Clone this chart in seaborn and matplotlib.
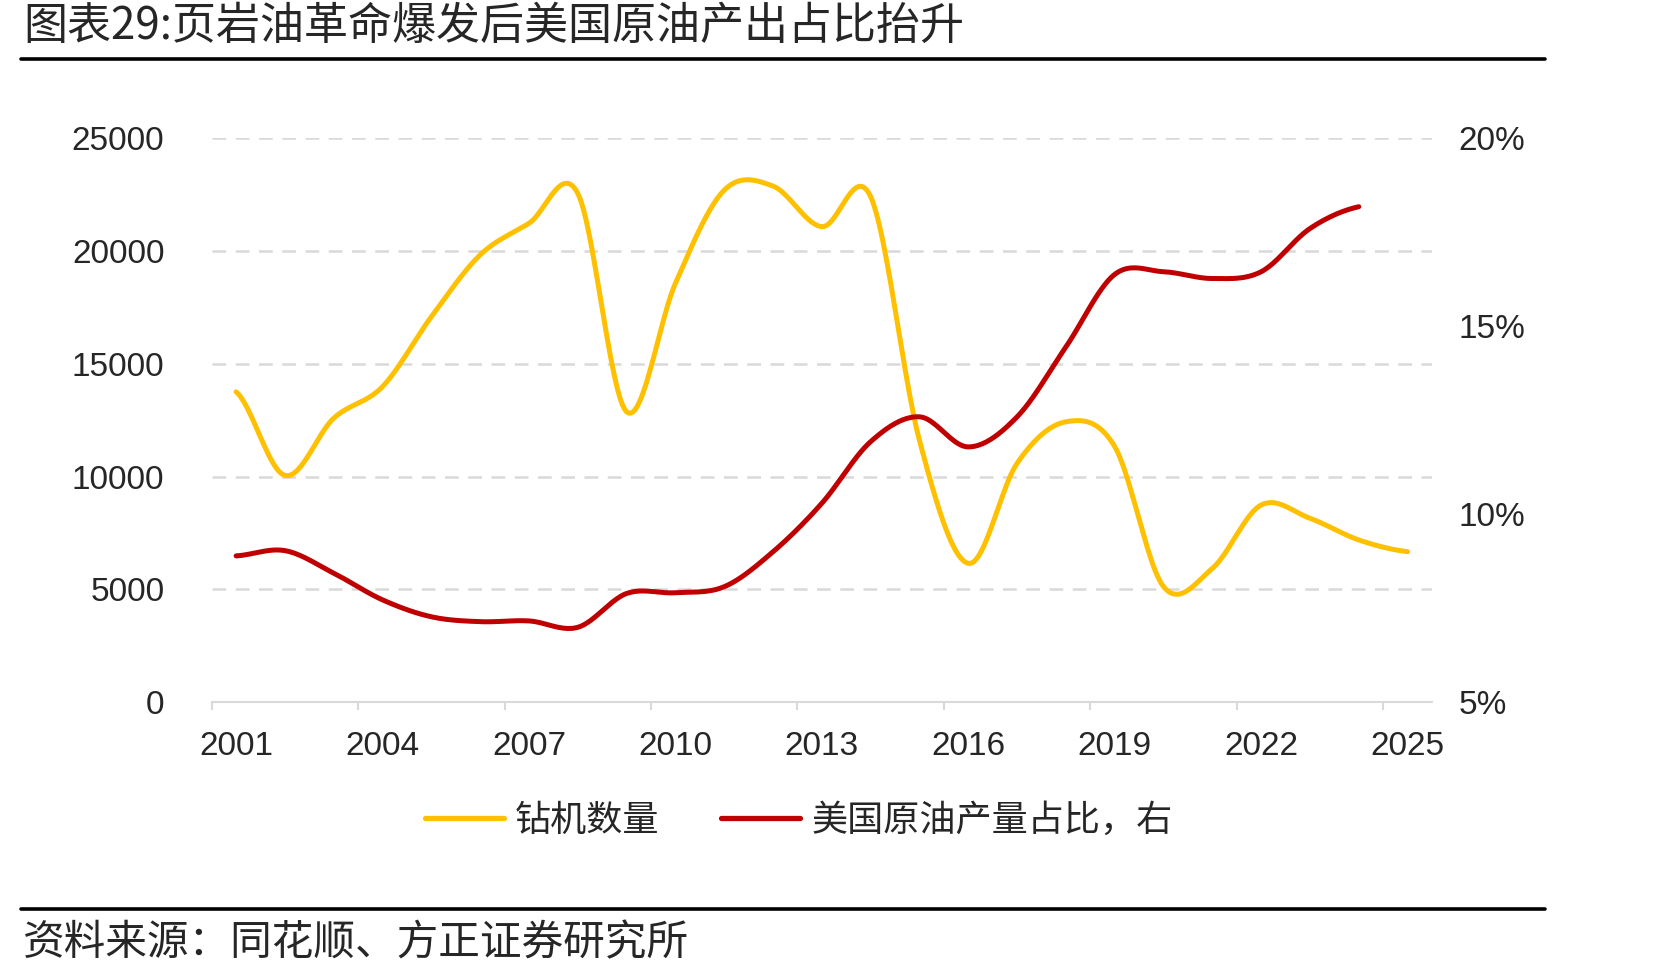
import numpy as np
import pandas as pd
import matplotlib.pyplot as plt
import seaborn as sns
from matplotlib.lines import Line2D

years = list(range(2001, 2026))
rig_count = [13760, 10050, 12590, 13990, 17090, 19830, 21230, 22560, 12870, 18570,
             22700, 22880, 21080, 22410, 11600, 6150, 10590, 12430, 11330, 5120,
             5930, 8740, 8150, 7190, 6670]
us_share = [8.89, 9.03, 8.43, 7.72, 7.27, 7.14, 7.16, 6.99, 7.89, 7.91,
            8.07, 9.00, 10.29, 11.93, 12.59, 11.79, 12.59, 14.45, 16.38, 16.45,
            16.27, 16.45, 17.60, 18.18]

title = "图表29:页岩油革命爆发后美国原油产出占比抬升"
source = "资料来源：同花顺、方正证券研究所"
label_rig = "钻机数量"
label_share = "美国原油产量占比，右"

YELLOW = "#FFC000"
RED = "#C00000"
GRID = "#D9D9D9"
CJK = ["Noto Sans CJK SC", "DejaVu Sans"]


def smooth(vals, n=24):
    # excel-style smoothed line (catmull-rom through the points)
    y = np.asarray(vals, float)
    m = np.gradient(y)
    m[0] /= 2
    m[-1] /= 2
    t = np.linspace(0, 1, n, endpoint=False)
    h00 = 2 * t**3 - 3 * t**2 + 1
    h10 = t**3 - 2 * t**2 + t
    h01 = -2 * t**3 + 3 * t**2
    h11 = t**3 - t**2
    xs, ys = [], []
    for i in range(len(y) - 1):
        xs.append(i + t)
        ys.append(h00 * y[i] + h10 * m[i] + h01 * y[i + 1] + h11 * m[i + 1])
    xs.append([len(y) - 1])
    ys.append([y[-1]])
    return pd.DataFrame({"x": np.concatenate(xs), "y": np.concatenate(ys)})


sns.set_style("white")
plt.rcParams["font.family"] = ["Liberation Sans", "Noto Sans CJK SC"]

fig = plt.figure(figsize=(16.71, 9.8), dpi=100)
ax = fig.add_axes([211.7 / 1671, 1 - 702.1 / 980, (1432 - 211.7) / 1671, (702.1 - 138.3) / 980])
ax2 = ax.twinx()

sns.lineplot(data=smooth(rig_count), x="x", y="y", ax=ax, color=YELLOW, lw=3.6,
             solid_capstyle="round")
sns.lineplot(data=smooth(us_share), x="x", y="y", ax=ax2, color=RED, lw=3.6,
             solid_capstyle="round")

ax.set_xlim(-0.5, len(years) - 0.5)
ax.set_ylim(0, 25000)
ax.set_yticks(range(0, 25001, 5000))
ax2.set_ylim(5, 20)
ax2.set_yticks([5, 10, 15, 20])
ax2.set_yticklabels([f"{v}%" for v in [5, 10, 15, 20]])

for y in range(5000, 25001, 5000):
    ax.axhline(y, color=GRID, lw=1.8, dashes=(5.5, 3.8), zorder=0)

ax.set_xticks(np.arange(-0.5, len(years) - 1, 3))
ax.set_xticklabels([])
ax.set_xticks(np.arange(0, len(years), 3), minor=True)
ax.set_xticklabels([str(years[i]) for i in range(0, len(years), 3)], minor=True)
ax.tick_params(axis="x", which="major", bottom=True, length=6, width=1.5, color=GRID,
               direction="out")
ax.tick_params(axis="x", which="minor", bottom=True, length=0, pad=21, labelsize=24)
ax.tick_params(axis="y", length=0, pad=34, labelsize=24)
ax2.tick_params(axis="y", length=0, pad=19, labelsize=24)

for a in (ax, ax2):
    a.set_xlabel("")
    a.set_ylabel("")
    for s in a.spines.values():
        s.set_visible(False)
ax.spines["bottom"].set_visible(True)
ax.spines["bottom"].set_color(GRID)
ax.spines["bottom"].set_linewidth(1.5)

handles = [Line2D([], [], color=YELLOW, lw=3.8), Line2D([], [], color=RED, lw=3.8)]
fig.legend(handles, [label_rig, label_share], loc="center", ncol=2,
           bbox_to_anchor=(798.5 / 1671, 1 - 820.6 / 980), frameon=False,
           prop={"family": CJK, "size": 26}, handlelength=2.2,
           handletextpad=0.3, columnspacing=1.7)

fig.text(23 / 1671, 1 - 25.6 / 980, title, family=CJK, size=31.7, va="center", ha="left")
fig.add_artist(Line2D([21 / 1671, 1545 / 1671], [1 - 58.6 / 980] * 2, lw=2.6, color="black"))
fig.add_artist(Line2D([21 / 1671, 1545 / 1671], [1 - 909 / 980] * 2, lw=2.6, color="black"))
fig.text(23 / 1671, 1 - 944 / 980, source, family=CJK, size=30, va="center", ha="left")

fig.savefig("out.png", dpi=100)
